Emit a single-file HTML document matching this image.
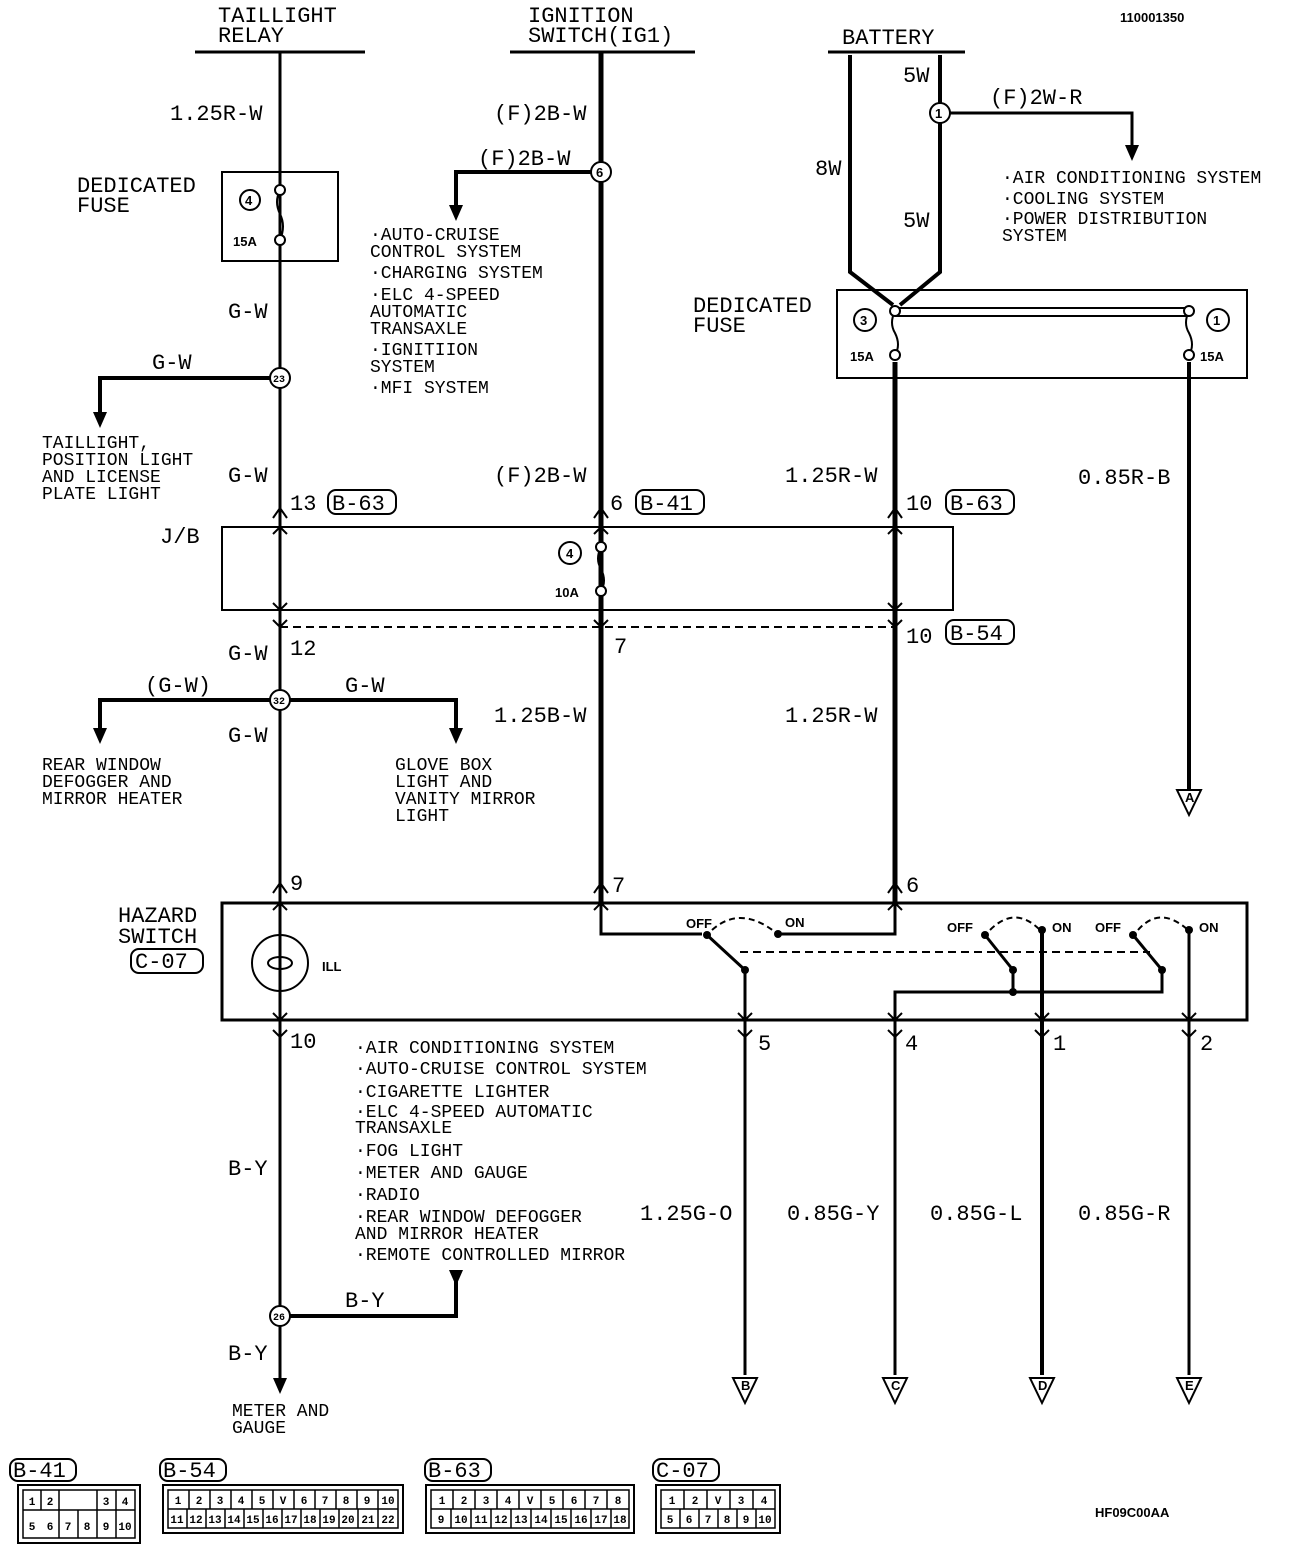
<!DOCTYPE html>
<html><head><meta charset="utf-8"><style>
html,body{margin:0;padding:0;background:#fff}
svg{display:block}
text{font-family:"Liberation Mono",monospace;fill:#000}
.l{font-size:22px}
.s{font-size:18px}
.t{font-size:13px;font-weight:bold;font-family:"Liberation Sans",sans-serif}
.c{font-size:11px;font-weight:bold;font-family:"Liberation Sans",sans-serif;text-anchor:middle}
</style></head><body>
<svg width="1296" height="1552" viewBox="0 0 1296 1552" xmlns="http://www.w3.org/2000/svg">
<g stroke="#000" fill="none">
<line x1="195" y1="52" x2="365" y2="52" stroke-width="3"/>
<line x1="510" y1="52" x2="695" y2="52" stroke-width="3"/>
<line x1="828" y1="52" x2="965" y2="52" stroke-width="3"/>
<line x1="280" y1="52" x2="280" y2="1385" stroke-width="3"/>
<rect x="222" y="172" width="116" height="89" stroke-width="2"/>
<circle cx="250" cy="200" r="10" stroke-width="2"/>
<polyline points="280,378 100,378 100,415" stroke-width="4"/>
<polyline points="280,700 100,700 100,730" stroke-width="4"/>
<polyline points="280,700 456,700 456,730" stroke-width="4"/>
<polyline points="280,1316 456,1316 456,1280" stroke-width="4"/>
<line x1="601" y1="52" x2="601" y2="903" stroke-width="5"/>
<polyline points="601,172 456,172 456,208" stroke-width="4"/>
<polyline points="850,55 850,272 893,305" stroke-width="4"/>
<polyline points="940,55 940,272 900,305" stroke-width="4"/>
<polyline points="940,113 1132,113 1132,148" stroke-width="3"/>
<rect x="837" y="290" width="410" height="88" stroke-width="2"/>
<line x1="895" y1="308" x2="1189" y2="308" stroke-width="2"/>
<line x1="895" y1="316" x2="1189" y2="316" stroke-width="2"/>
<circle cx="865" cy="320" r="11" stroke-width="2"/>
<circle cx="1218" cy="320" r="11" stroke-width="2"/>
<line x1="895" y1="362" x2="895" y2="903" stroke-width="5"/>
<line x1="1189" y1="362" x2="1189" y2="790" stroke-width="4"/>
<rect x="222" y="527" width="731" height="83" stroke-width="2"/>
<line x1="280" y1="627" x2="895" y2="627" stroke-width="2" stroke-dasharray="8,5"/>
<circle cx="570" cy="553" r="11" stroke-width="2"/>
<rect x="222" y="903" width="1025" height="117" stroke-width="3"/>
<polyline points="601,903 601,934 702,934" stroke-width="3"/>
<polyline points="778,934 895,934 895,903" stroke-width="3"/>
<line x1="707" y1="935" x2="745" y2="970" stroke-width="3"/>
<line x1="745" y1="970" x2="745" y2="1375" stroke-width="3"/>
<path d="M712,930 Q740,905 775,932" stroke-width="2" stroke-dasharray="6,4"/>
<line x1="740" y1="952" x2="1150" y2="952" stroke-width="2" stroke-dasharray="8,5"/>
<line x1="985" y1="935" x2="1013" y2="970" stroke-width="3"/>
<line x1="1013" y1="970" x2="1013" y2="992" stroke-width="3"/>
<path d="M990,930 Q1015,905 1040,930" stroke-width="2" stroke-dasharray="6,4"/>
<line x1="1042" y1="930" x2="1042" y2="1375" stroke-width="4"/>
<line x1="1133" y1="935" x2="1162" y2="970" stroke-width="3"/>
<polyline points="1162,970 1162,992 895,992 895,1375" stroke-width="3"/>
<path d="M1138,930 Q1160,905 1188,930" stroke-width="2" stroke-dasharray="6,4"/>
<line x1="1189" y1="930" x2="1189" y2="1375" stroke-width="3"/>
<circle cx="280" cy="963" r="28" stroke-width="2"/>
<ellipse cx="280" cy="963" rx="12" ry="6" stroke-width="2"/>
<polygon points="733,1378 757,1378 745,1403" stroke-width="2" fill="#fff"/>
<polygon points="883,1378 907,1378 895,1403" stroke-width="2" fill="#fff"/>
<polygon points="1030,1378 1054,1378 1042,1403" stroke-width="2" fill="#fff"/>
<polygon points="1177,1378 1201,1378 1189,1403" stroke-width="2" fill="#fff"/>
<polygon points="1177,790 1201,790 1189,815" stroke-width="2" fill="#fff"/>
</g>
<g fill="#000">
<polygon points="93,412 107,412 100,428"/>
<polygon points="93,728 107,728 100,744"/>
<polygon points="449,728 463,728 456,744"/>
<polygon points="449,205 463,205 456,221"/>
<polygon points="1125,145 1139,145 1132,161"/>
<polygon points="449,1270 463,1270 456,1286"/>
<polygon points="273,1378 287,1378 280,1394"/>
</g>
<g stroke="#000" stroke-width="2" fill="#fff">
<path d="M280,190 q-6,12 0,24 q6,12 0,26" fill="none"/>
<circle cx="280" cy="190" r="5"/><circle cx="280" cy="240" r="5"/>
<path d="M601,547 q-6,12 0,22 q6,12 0,22" fill="none"/>
<circle cx="601" cy="547" r="5"/><circle cx="601" cy="591" r="5"/>
<path d="M895,311 q-6,12 0,22 q6,12 0,22" fill="none"/>
<circle cx="895" cy="311" r="5"/><circle cx="895" cy="355" r="5"/>
<path d="M1189,311 q-6,12 0,22 q6,12 0,22" fill="none"/>
<circle cx="1189" cy="311" r="5"/><circle cx="1189" cy="355" r="5"/>
<circle cx="280" cy="378" r="10"/><circle cx="280" cy="700" r="10"/><circle cx="280" cy="1316" r="10"/>
<circle cx="601" cy="172" r="10"/><circle cx="940" cy="113" r="10"/>
</g>
<g fill="#000"><circle cx="707" cy="935" r="4"/><circle cx="778" cy="934" r="4"/><circle cx="745" cy="970" r="4"/>
<circle cx="985" cy="935" r="4"/><circle cx="1042" cy="930" r="4"/><circle cx="1013" cy="970" r="4"/><circle cx="1013" cy="992" r="4"/>
<circle cx="1133" cy="935" r="4"/><circle cx="1189" cy="930" r="4"/><circle cx="1162" cy="970" r="4"/></g>
<g stroke="#000" stroke-width="2" fill="none">
<path d="M273,518 280,508 287,518M273,534 280,527 287,534M273,603 280,610 287,603M273,620 280,627 287,620"/>
<path d="M594,518 601,508 608,518M594,534 601,527 608,534M594,620 601,627 608,620"/>
<path d="M888,518 895,508 902,518M888,534 895,527 902,534M888,603 895,610 902,603M888,620 895,627 902,620"/>
<path d="M273,893 280,883 287,893M273,910 280,903 287,910M594,893 601,883 608,893M594,910 601,903 608,910M888,893 895,883 902,893M888,910 895,903 902,910"/>
<path d="M273,1013 280,1020 287,1013M273,1030 280,1037 287,1030"/>
<path d="M738,1013 745,1020 752,1013M738,1030 745,1037 752,1030M888,1013 895,1020 902,1013M888,1030 895,1037 902,1030M1035,1013 1042,1020 1049,1013M1035,1030 1042,1037 1049,1030M1182,1013 1189,1020 1196,1013M1182,1030 1189,1037 1196,1030"/>
</g>
<text class="l" x="218" y="22">TAILLIGHT</text><text class="l" x="218" y="42">RELAY</text>
<text class="l" x="528" y="22">IGNITION</text><text class="l" x="528" y="42">SWITCH(IG1)</text>
<text class="l" x="842" y="44">BATTERY</text>
<text class="t" x="1120" y="22">110001350</text>
<text class="l" x="170" y="120">1.25R-W</text>
<text class="l" x="77" y="192">DEDICATED</text><text class="l" x="77" y="212">FUSE</text>
<text class="t" x="245" y="205">4</text><text class="t" x="233" y="246">15A</text>
<text class="l" x="228" y="318">G-W</text>
<text class="l" x="152" y="369">G-W</text>
<text class="s" x="42" y="448">TAILLIGHT,</text><text class="s" x="42" y="465">POSITION LIGHT</text><text class="s" x="42" y="482">AND LICENSE</text><text class="s" x="42" y="499">PLATE LIGHT</text>
<text class="l" x="228" y="482">G-W</text>
<text class="l" x="290" y="510">13</text><text class="l" x="332" y="510">B-63</text>
<rect x="328" y="490" width="68" height="24" rx="8" fill="none" stroke="#000" stroke-width="2"/>
<text class="l" x="160" y="543">J/B</text>
<text class="l" x="290" y="655">12</text><text class="l" x="228" y="660">G-W</text>
<text class="l" x="145" y="692">(G-W)</text><text class="l" x="345" y="692">G-W</text>
<text class="l" x="228" y="742">G-W</text>
<text class="s" x="42" y="770">REAR WINDOW</text><text class="s" x="42" y="787">DEFOGGER AND</text><text class="s" x="42" y="804">MIRROR HEATER</text>
<text class="s" x="395" y="770">GLOVE BOX</text><text class="s" x="395" y="787">LIGHT AND</text><text class="s" x="395" y="804">VANITY MIRROR</text><text class="s" x="395" y="821">LIGHT</text>
<text class="l" x="290" y="890">9</text>
<text class="l" x="118" y="922">HAZARD</text><text class="l" x="118" y="943">SWITCH</text>
<text class="l" x="135" y="968">C-07</text>
<rect x="131" y="949" width="72" height="24" rx="8" fill="none" stroke="#000" stroke-width="2"/>
<text class="t" x="322" y="971">ILL</text>
<text class="l" x="290" y="1048">10</text>
<text class="l" x="494" y="120">(F)2B-W</text>
<text class="l" x="478" y="165">(F)2B-W</text>
<text class="t" x="596" y="177">6</text>
<text class="s" x="370" y="240">·AUTO-CRUISE</text><text class="s" x="370" y="257"> CONTROL SYSTEM</text>
<text class="s" x="370" y="278">·CHARGING SYSTEM</text>
<text class="s" x="370" y="300">·ELC 4-SPEED</text><text class="s" x="370" y="317"> AUTOMATIC</text><text class="s" x="370" y="334"> TRANSAXLE</text>
<text class="s" x="370" y="355">·IGNITIION</text><text class="s" x="370" y="372"> SYSTEM</text>
<text class="s" x="370" y="393">·MFI SYSTEM</text>
<text class="l" x="494" y="482">(F)2B-W</text>
<text class="l" x="610" y="510">6</text><text class="l" x="640" y="510">B-41</text>
<rect x="636" y="490" width="68" height="24" rx="8" fill="none" stroke="#000" stroke-width="2"/>
<text class="t" x="566" y="558">4</text><text class="t" x="555" y="597">10A</text>
<text class="l" x="614" y="653">7</text>
<text class="l" x="494" y="722">1.25B-W</text>
<text class="l" x="612" y="892">7</text>
<text class="l" x="903" y="82">5W</text><text class="l" x="815" y="175">8W</text><text class="l" x="903" y="227">5W</text>
<text class="t" x="935" y="118">1</text>
<text class="l" x="990" y="104">(F)2W-R</text>
<text class="s" x="1002" y="183">·AIR CONDITIONING SYSTEM</text><text class="s" x="1002" y="204">·COOLING SYSTEM</text><text class="s" x="1002" y="224">·POWER DISTRIBUTION</text><text class="s" x="1002" y="241"> SYSTEM</text>
<text class="l" x="693" y="312">DEDICATED</text><text class="l" x="693" y="332">FUSE</text>
<text class="t" x="860" y="325">3</text><text class="t" x="1213" y="325">1</text>
<text class="t" x="850" y="361">15A</text><text class="t" x="1200" y="361">15A</text>
<text class="l" x="785" y="482">1.25R-W</text>
<text class="l" x="906" y="510">10</text><text class="l" x="950" y="510">B-63</text>
<rect x="946" y="490" width="68" height="24" rx="8" fill="none" stroke="#000" stroke-width="2"/>
<text class="l" x="906" y="643">10</text><text class="l" x="950" y="640">B-54</text>
<rect x="946" y="620" width="68" height="24" rx="8" fill="none" stroke="#000" stroke-width="2"/>
<text class="l" x="785" y="722">1.25R-W</text>
<text class="l" x="1078" y="484">0.85R-B</text>
<text class="l" x="906" y="892">6</text>
<text class="t" x="686" y="928">OFF</text><text class="t" x="785" y="927">ON</text>
<text class="t" x="947" y="932">OFF</text><text class="t" x="1052" y="932">ON</text>
<text class="t" x="1095" y="932">OFF</text><text class="t" x="1199" y="932">ON</text>
<text class="l" x="758" y="1050">5</text><text class="l" x="905" y="1050">4</text><text class="l" x="1053" y="1050">1</text><text class="l" x="1200" y="1050">2</text>
<text class="s" x="355" y="1053">·AIR CONDITIONING SYSTEM</text>
<text class="s" x="355" y="1074">·AUTO-CRUISE CONTROL SYSTEM</text>
<text class="s" x="355" y="1097">·CIGARETTE LIGHTER</text>
<text class="s" x="355" y="1117">·ELC 4-SPEED AUTOMATIC</text><text class="s" x="355" y="1133"> TRANSAXLE</text>
<text class="s" x="355" y="1156">·FOG LIGHT</text>
<text class="s" x="355" y="1178">·METER AND GAUGE</text>
<text class="s" x="355" y="1200">·RADIO</text>
<text class="s" x="355" y="1222">·REAR WINDOW DEFOGGER</text><text class="s" x="355" y="1239"> AND MIRROR HEATER</text>
<text class="s" x="355" y="1260">·REMOTE CONTROLLED MIRROR</text>
<text class="l" x="228" y="1175">B-Y</text>
<text class="l" x="345" y="1307">B-Y</text>
<text class="l" x="228" y="1360">B-Y</text>
<text class="s" x="232" y="1416">METER AND</text><text class="s" x="232" y="1433">GAUGE</text>
<text class="l" x="640" y="1220">1.25G-O</text><text class="l" x="787" y="1220">0.85G-Y</text><text class="l" x="930" y="1220">0.85G-L</text><text class="l" x="1078" y="1220">0.85G-R</text>
<text class="t" x="741" y="1390">B</text><text class="t" x="891" y="1390">C</text><text class="t" x="1038" y="1390">D</text><text class="t" x="1185" y="1390">E</text><text class="t" x="1185" y="802">A</text>
<text class="t" x="1095" y="1517">HF09C00AA</text>
<g style="font-size:10px;font-weight:bold;font-family:'Liberation Sans',sans-serif"><text x="273" y="382">23</text><text x="273" y="704">32</text><text x="273" y="1320">26</text></g>

<!-- connector diagrams -->
<g fill="none" stroke="#000" stroke-width="2">
<rect x="10" y="1459" width="66" height="22" rx="8"/><rect x="160" y="1459" width="66" height="22" rx="8"/><rect x="425" y="1459" width="66" height="22" rx="8"/><rect x="653" y="1459" width="66" height="22" rx="8"/>
<rect x="18" y="1485" width="122" height="58"/><rect x="163" y="1485" width="240" height="48"/><rect x="426" y="1485" width="208" height="48"/><rect x="656" y="1485" width="124" height="48"/>
</g>
<g class="l"><text x="13" y="1477">B-41</text><text x="163" y="1477">B-54</text><text x="428" y="1477">B-63</text><text x="656" y="1477">C-07</text></g>
<g fill="none" stroke="#000" stroke-width="1.5">
<!-- B-41 -->
<path d="M23,1490h112v48h-112z M23,1510h112 M41,1490v20 M59,1490v48 M78,1510v28 M97,1510v28 M116,1490v48 M97,1490v20"/>
<!-- B-54 -->
<path d="M168,1490h230v38h-230z M168,1509h230"/>
<path d="M189,1490v19M210,1490v19M231,1490v19M252,1490v19M273,1490v19M294,1490v19M315,1490v19M336,1490v19M357,1490v19M378,1490v19"/>
<path d="M187,1509v19M206,1509v19M225,1509v19M244,1509v19M263,1509v19M282,1509v19M301,1509v19M320,1509v19M339,1509v19M358,1509v19M378,1509v19"/>
<!-- B-63 -->
<path d="M431,1490h198v38h-198z M431,1509h198"/>
<path d="M453,1490v19M475,1490v19M497,1490v19M519,1490v19M541,1490v19M563,1490v19M585,1490v19M607,1490v19"/>
<path d="M451,1509v19M471,1509v19M491,1509v19M511,1509v19M531,1509v19M551,1509v19M571,1509v19M591,1509v19M611,1509v19"/>
<!-- C-07 -->
<path d="M661,1490h114v38h-114z M661,1509h114 M684,1490v19M707,1490v19M730,1490v19M753,1490v19 M680,1509v19M699,1509v19M718,1509v19M737,1509v19M756,1509v19"/>
</g>
<g class="c">
<text x="32" y="1505">1</text><text x="50" y="1505">2</text><text x="106" y="1505">3</text><text x="125" y="1505">4</text>
<text x="32" y="1530">5</text><text x="50" y="1530">6</text><text x="68" y="1530">7</text><text x="87" y="1530">8</text><text x="106" y="1530">9</text><text x="125" y="1530">10</text>
<text x="178" y="1504">1</text><text x="199" y="1504">2</text><text x="220" y="1504">3</text><text x="241" y="1504">4</text><text x="262" y="1504">5</text><text x="283" y="1504">V</text><text x="304" y="1504">6</text><text x="325" y="1504">7</text><text x="346" y="1504">8</text><text x="367" y="1504">9</text><text x="388" y="1504">10</text>
<text x="177" y="1523">11</text><text x="196" y="1523">12</text><text x="215" y="1523">13</text><text x="234" y="1523">14</text><text x="253" y="1523">15</text><text x="272" y="1523">16</text><text x="291" y="1523">17</text><text x="310" y="1523">18</text><text x="329" y="1523">19</text><text x="348" y="1523">20</text><text x="368" y="1523">21</text><text x="388" y="1523">22</text>
<text x="442" y="1504">1</text><text x="464" y="1504">2</text><text x="486" y="1504">3</text><text x="508" y="1504">4</text><text x="530" y="1504">V</text><text x="552" y="1504">5</text><text x="574" y="1504">6</text><text x="596" y="1504">7</text><text x="618" y="1504">8</text>
<text x="441" y="1523">9</text><text x="461" y="1523">10</text><text x="481" y="1523">11</text><text x="501" y="1523">12</text><text x="521" y="1523">13</text><text x="541" y="1523">14</text><text x="561" y="1523">15</text><text x="581" y="1523">16</text><text x="601" y="1523">17</text><text x="620" y="1523">18</text>
<text x="672" y="1504">1</text><text x="695" y="1504">2</text><text x="718" y="1504">V</text><text x="741" y="1504">3</text><text x="764" y="1504">4</text>
<text x="670" y="1523">5</text><text x="689" y="1523">6</text><text x="708" y="1523">7</text><text x="727" y="1523">8</text><text x="746" y="1523">9</text><text x="765" y="1523">10</text>
</g>
</svg>
</body></html>
